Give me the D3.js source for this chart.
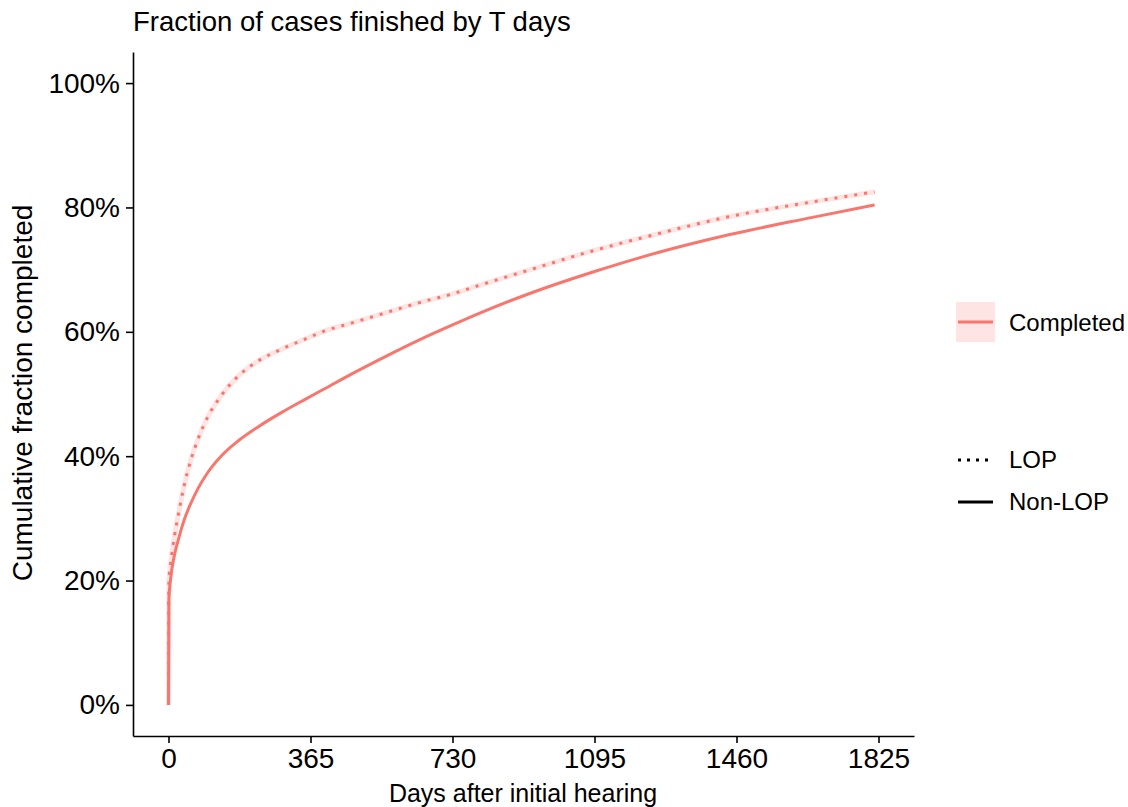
<!DOCTYPE html>
<html>
<head>
<meta charset="utf-8">
<script src="https://cdn.jsdelivr.net/npm/d3@7"></script>
<style>
  body { margin: 0; background: #fff; }
  svg text { font-family: "Liberation Sans", Arial, sans-serif; fill: #000; }
</style>
</head>
<body>
<script>
// Cumulative fraction of cases finished, by days after first hearing
var days   = [0, 1, 5, 15, 25, 40, 58, 75, 100, 135, 178, 230, 290, 350, 400, 470, 560, 645, 730, 800, 930, 1095, 1210, 1440, 1655, 1815];
var nonLop = [0, 0.17, 0.2, 0.24, 0.265, 0.297, 0.325, 0.347, 0.373, 0.4, 0.424, 0.447, 0.47, 0.491, 0.508, 0.532, 0.561, 0.587, 0.611, 0.63, 0.662, 0.697, 0.719, 0.756, 0.784, 0.804];
var lop    = [0, 0.2, 0.225, 0.27, 0.305, 0.352, 0.395, 0.426, 0.462, 0.497, 0.528, 0.553, 0.572, 0.588, 0.601, 0.614, 0.631, 0.647, 0.661, 0.675, 0.70, 0.731, 0.75, 0.785, 0.809, 0.825];
var xTicks = [0, 365, 730, 1095, 1460, 1825];
var yTicks = [0, 0.2, 0.4, 0.6, 0.8, 1];
var groups = ["LOP", "Non-LOP"];

var W = 1128, H = 807;
var col = "#F8766D";

var svg = d3.select("body").append("svg")
    .attr("width", W).attr("height", H);

// ggplot style 5% expansion on both axes
var xPad = 0.05 * 1825, yPad = 0.05;
var x = d3.scaleLinear().domain([0 - xPad, 1825 + xPad]).range([133, 914]);
var y = d3.scaleLinear().domain([0 - yPad, 1 + yPad]).range([736, 52]);

//axes
var xAxis = svg.append("g").attr("transform", "translate(0,736)")
    .call(d3.axisBottom(x).tickValues(xTicks).tickSizeInner(7).tickSizeOuter(0).tickPadding(5)
        .tickFormat(d3.format("d")));
var yAxis = svg.append("g").attr("transform", "translate(133,0)")
    .call(d3.axisLeft(y).tickValues(yTicks).tickSizeInner(7).tickSizeOuter(0).tickPadding(6)
        .tickFormat(d3.format(".0%")));
[xAxis, yAxis].forEach(function(a){
    a.select(".domain").attr("stroke", "#000").attr("stroke-width", 1.6);
    a.selectAll(".tick line").attr("stroke", "#000").attr("stroke-width", 1.6);
    a.selectAll(".tick text").style("font-size", "28px").attr("fill", "#000");
});

//lines
var line = d3.line()
    .x(function(d){ return x(d[0]); })
    .y(function(d){ return y(d[1]); })
    .curve(d3.curveMonotoneX);

var lopPts = days.map(function(d, i){ return [d, lop[i]]; });
var nonPts = days.map(function(d, i){ return [d, nonLop[i]]; });

// faint ribbon around the dotted curve
svg.append("path").attr("d", line(lopPts))
    .attr("fill", "none").attr("stroke", col).attr("stroke-opacity", 0.2).attr("stroke-width", 5);
svg.append("path").attr("d", line(lopPts))
    .attr("fill", "none").attr("stroke", col).attr("stroke-width", 3)
    .attr("stroke-dasharray", "3,7");
svg.append("path").attr("d", line(nonPts))
    .attr("fill", "none").attr("stroke", col).attr("stroke-width", 3);

//title and axis titles
svg.append("text").attr("x", 133).attr("y", 31).text("Fraction of cases finished by T days")
    .style("font-size", "27.5px");
svg.append("text").attr("x", 523).attr("y", 802).attr("text-anchor", "middle")
    .text("Days after initial hearing").style("font-size", "25px");
svg.append("text").attr("transform", "translate(32,393) rotate(-90)").attr("text-anchor", "middle")
    .text("Cumulative fraction completed").style("font-size", "28px");

//legend
var leg = svg.append("g");
leg.append("rect").attr("x", 956).attr("y", 302).attr("width", 39).attr("height", 40)
    .attr("fill", col).attr("fill-opacity", 0.2);
leg.append("line").attr("x1", 958).attr("x2", 993).attr("y1", 322).attr("y2", 322)
    .attr("stroke", col).attr("stroke-width", 3);
leg.append("text").attr("x", 1009).attr("y", 331).text("Completed").style("font-size", "24px");

groups.forEach(function(g, i){
    var yy = 460 + i * 42;
    leg.append("line").attr("x1", 958).attr("x2", 993).attr("y1", yy).attr("y2", yy)
        .attr("stroke", "#000").attr("stroke-width", 3)
        .attr("stroke-dasharray", i == 0 ? "3,6" : null);
    leg.append("text").attr("x", 1009).attr("y", yy + 8).text(g).style("font-size", "24px");
});
</script>
</body>
</html>
